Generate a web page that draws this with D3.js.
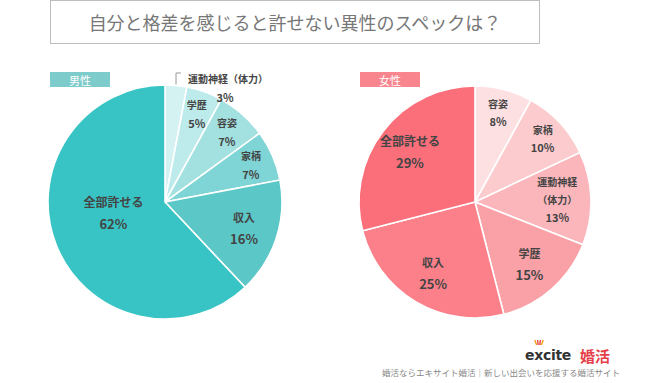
<!DOCTYPE html>
<html><head><meta charset="utf-8">
<script src="https://cdn.jsdelivr.net/npm/d3@7"></script>
<style>
html,body{margin:0;padding:0;background:#fff;}
svg{display:block;font-family:"Noto Sans CJK JP","Noto Sans",sans-serif;}
</style></head>
<body>
<svg id="c" width="650" height="383"></svg>
<script>
const title = "自分と格差を感じると許せない異性のスペックは？";
const maleCategories = ["運動神経（体力）","学歴","容姿","家柄","収入","全部許せる"];
const maleValues = [3,5,7,7,16,62];
const maleColors = ["#d5f2f2","#bdeaea","#a3e0e0","#7fd5d5","#5cc7c7","#38c4c5"];
const femaleCategories = ["容姿","家柄","運動神経（体力）","学歴","収入","全部許せる"];
const femaleValues = [8,10,13,15,25,29];
const femaleColors = ["#fde0e2","#fccbce","#fab6bb","#f9a1a7","#fc808a","#fb6f7b"];
const footerText = "婚活ならエキサイト婚活｜新しい出会いを応援する婚活サイト";

const svg = d3.select("#c");

// title box
svg.append("rect").attr("x",50.5).attr("y",0.5).attr("width",489).attr("height",43)
  .attr("fill","#fff").attr("stroke","#bdbdbd").attr("stroke-width",1);
svg.append("text").attr("x",295).attr("y",22).attr("text-anchor","middle")
  .attr("dominant-baseline","central").attr("font-size",18).attr("fill","#777")
  .text(title);

function drawPie(cx, cy, r, cats, vals, cols, badge, badgeColor, outsideFirst){
  const g = svg.append("g").attr("transform",`translate(${cx},${cy})`);
  const total = d3.sum(vals);
  const data = cats.map((c,i)=>({cat:c, val:vals[i], col:cols[i]}));
  const pie = d3.pie().sort(null).value(d=>d.val);
  const arcs = pie(data);
  const arc = d3.arc().innerRadius(0).outerRadius(r);
  g.selectAll("path").data(arcs).join("path")
    .attr("d",arc).attr("fill",d=>d.data.col)
    .attr("stroke","#fff").attr("stroke-width",1.6);

  arcs.forEach((a,i)=>{
    const share = a.data.val/total;
    const pct = a.data.val + "%";
    const mid = (a.startAngle+a.endAngle)/2;
    if(outsideFirst && i===0){
      const px = Math.sin(mid)*r, py = -Math.cos(mid)*r;
      const topY = -r-12;
      g.append("path").attr("d",`M${px},${py-1}V${topY}H${px+5}`)
        .attr("fill","none").attr("stroke","#999").attr("stroke-width",1);
      g.append("text").attr("x",px+12).attr("y",topY+5)
        .attr("dominant-baseline","central").attr("font-size",10).attr("font-weight","bold")
        .attr("fill","#444").text(a.data.cat);
      g.append("text").attr("x",px+49).attr("y",topY+24).attr("text-anchor","middle")
        .attr("dominant-baseline","central").attr("font-size",11).attr("font-weight","bold")
        .attr("fill","#444").text(pct);
      return;
    }
    const f = share < 0.11 ? 0.8 : (share > 0.5 ? 0.45 : 0.71);
    const ang = share > 0.5 ? mid + 0.18 : mid;
    const lx = Math.sin(ang)*r*f, ly = -Math.cos(ang)*r*f;
    const big = share >= 0.15;
    const nameSize = share > 0.28 ? 12 : (big ? 11 : 10);
    const pctSize = big ? 13 : 11;
    const gap = big ? 22 : 18;
    let lines = [a.data.cat];
    if(a.data.cat.includes("（") && share >= 0.11){
      const k = a.data.cat.indexOf("（");
      lines = [a.data.cat.slice(0,k), a.data.cat.slice(k)];
    }
    const n = lines.length + 1;
    const start = ly - (n-1)*gap/2;
    lines.forEach((t,j)=>{
      g.append("text").attr("x",lx).attr("y",start+j*gap).attr("text-anchor","middle")
        .attr("dominant-baseline","central").attr("font-size",nameSize).attr("font-weight","bold")
        .attr("fill","#444").text(t);
    });
    g.append("text").attr("x",lx).attr("y",start+lines.length*gap).attr("text-anchor","middle")
      .attr("dominant-baseline","central").attr("font-size",pctSize).attr("font-weight","bold")
      .attr("fill","#444").text(pct);
  });

  // badge
  svg.append("rect").attr("x",cx-115).attr("y",72).attr("width",60).attr("height",15)
    .attr("fill",badgeColor);
  svg.append("text").attr("x",cx-85).attr("y",79.5).attr("text-anchor","middle")
    .attr("dominant-baseline","central").attr("font-size",11).attr("fill","#fff").text(badge);
}

drawPie(165, 202, 117, maleCategories, maleValues, maleColors, "男性", "#7ecbcb", true);
drawPie(475, 202, 116, femaleCategories, femaleValues, femaleColors, "女性", "#f9868e", false);

// logo
const logo = svg.append("g");
logo.append("text").attr("x",525).attr("y",355).attr("dominant-baseline","central")
  .attr("font-family","'DejaVu Sans',sans-serif").attr("font-size",14).attr("font-weight","bold")
  .attr("fill","#333").attr("letter-spacing",-0.3).text("excite");
[[-0.6,0],[-0.2,1],[0.2,1],[0.6,0]].forEach(([dx,c])=>{
  logo.append("line").attr("x1",539+dx*4).attr("y1",345).attr("x2",539+dx*7).attr("y2",340)
    .attr("stroke",c?"#e8383d":"#f39800").attr("stroke-width",1.3);
});
logo.append("text").attr("x",580).attr("y",355).attr("dominant-baseline","central")
  .attr("font-size",15).attr("font-weight","bold").attr("fill","#e5404a").text("婚活");
svg.append("text").attr("x",501).attr("y",372).attr("text-anchor","middle")
  .attr("dominant-baseline","central").attr("font-size",8.5).attr("fill","#888").text(footerText);
</script>
</body></html>
